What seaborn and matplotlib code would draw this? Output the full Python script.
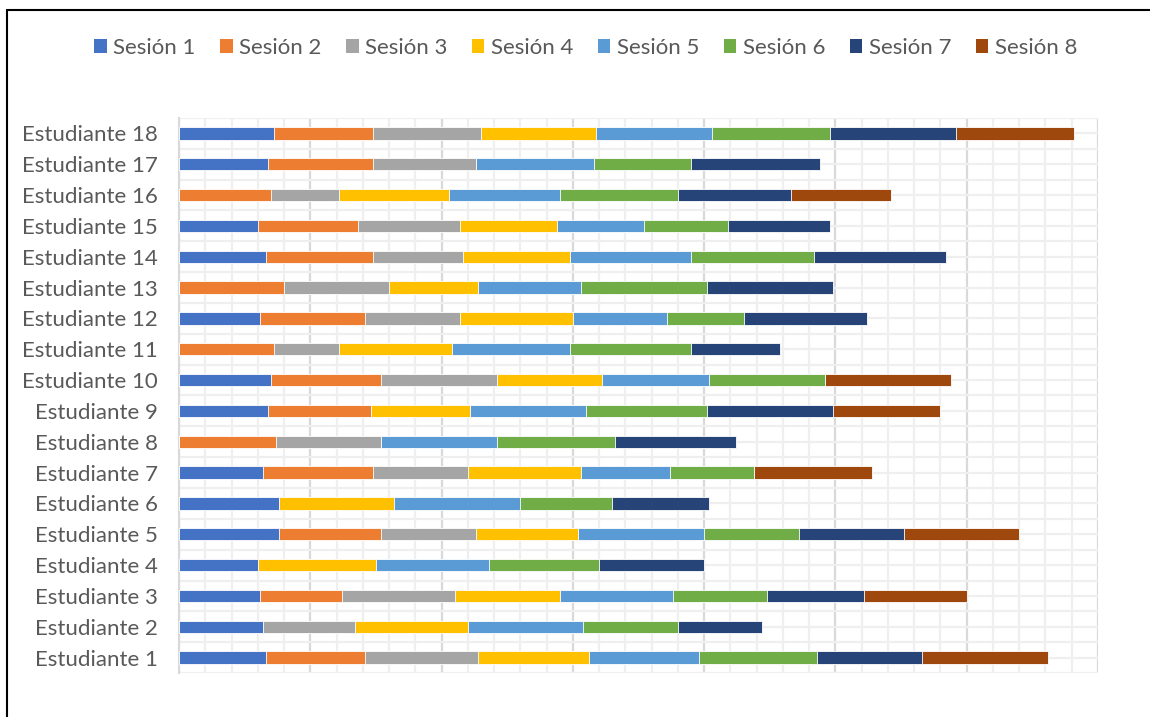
import numpy as np
import pandas as pd
import matplotlib
matplotlib.use("Agg")
import matplotlib.pyplot as plt
import matplotlib.patches as mpatches
from matplotlib.lines import Line2D
from matplotlib.ticker import MultipleLocator, FixedLocator
import seaborn as sns

# ---------------- data ----------------
estudiantes = [f"Estudiante {i}" for i in range(1, 19)]
sesiones = [f"Sesión {i}" for i in range(1, 9)]
nan = np.nan
sesion_1 = [3.3, 3.2, 3.1, 3.0, 3.8, 3.8, 3.2, nan, 3.4, 3.5, nan, 3.1, nan, 3.3, 3.0, nan, 3.4, 3.6]
sesion_2 = [3.8, nan, 3.1, nan, 3.9, nan, 4.2, 3.7, 3.9, 4.2, 3.6, 4.0, 4.0, 4.1, 3.8, 3.5, 4.0, 3.8]
sesion_3 = [4.3, 3.5, 4.3, nan, 3.6, nan, 3.6, 4.0, nan, 4.4, 2.5, 3.6, 4.0, 3.4, 3.9, 2.6, 3.9, 4.1]
sesion_4 = [4.2, 4.3, 4.0, 4.5, 3.9, 4.4, 4.3, nan, 3.8, 4.0, 4.3, 4.3, 3.4, 4.1, 3.7, 4.2, nan, 4.4]
sesion_5 = [4.2, 4.4, 4.3, 4.3, 4.8, 4.8, 3.4, 4.4, 4.4, 4.1, 4.5, 3.6, 3.9, 4.6, 3.3, 4.2, 4.5, 4.4]
sesion_6 = [4.5, 3.6, 3.6, 4.2, 3.6, 3.5, 3.2, 4.5, 4.6, 4.4, 4.6, 2.9, 4.8, 4.7, 3.2, 4.5, 3.7, 4.5]
sesion_7 = [4.0, 3.2, 3.7, 4.0, 4.0, 3.7, nan, 4.6, 4.8, nan, 3.4, 4.7, 4.8, 5.0, 3.9, 4.3, 4.9, 4.8]
sesion_8 = [4.8, nan, 3.9, nan, 4.4, nan, 4.5, nan, 4.1, 4.8, nan, nan, nan, nan, nan, 3.8, nan, 4.5]

colores = ["#4472C4", "#ED7D31", "#A5A5A5", "#FFC000",
           "#5B9BD5", "#70AD47", "#264478", "#9E480E"]

df = pd.DataFrame({"Estudiante": estudiantes})
for name, vals in zip(sesiones, [sesion_1, sesion_2, sesion_3, sesion_4,
                                 sesion_5, sesion_6, sesion_7, sesion_8]):
    df[name] = vals
cum = df[sesiones].fillna(0).cumsum(axis=1)
orden = estudiantes[::-1]

# ---------------- figure ----------------
sns.set_style("white")
FONT = ["Lato", "DejaVu Sans"]
plt.rcParams["font.family"] = FONT
TXT = "#595959"

fig = plt.figure(figsize=(11.5, 7.17), dpi=100)
ax = fig.add_axes([179 / 1150, 1 - 673 / 717, (1098 - 179) / 1150, (673 - 118) / 717])

for i in reversed(range(8)):
    sns.barplot(x=cum[sesiones[i]], y=df["Estudiante"], order=orden,
                color=colores[i], saturation=1, width=0.4, orient="h",
                errorbar=None, ax=ax, edgecolor="white", linewidth=0.6,
                zorder=3)

ax.set_xlim(0, 35)
ax.set_ylim(17.5, -0.5)
ax.set_xlabel("")
ax.set_ylabel("")

ax.xaxis.set_major_locator(MultipleLocator(5))
ax.xaxis.set_minor_locator(MultipleLocator(1))
ax.yaxis.set_major_locator(FixedLocator(np.arange(18)))
ax.yaxis.set_minor_locator(FixedLocator(np.arange(-0.5, 18, 1.0)))
ax.set_yticklabels(orden)

ax.grid(which="major", axis="x", color="#d9d9d9", lw=1.6, zorder=0)
ax.grid(which="minor", axis="x", color="#efefef", lw=1.6, zorder=0)
ax.grid(which="both", axis="y", color="#efefef", lw=1.6, zorder=0)
ax.set_axisbelow(True)

ax.tick_params(axis="x", which="both", length=0, labelbottom=False)
ax.tick_params(axis="y", which="major", length=0, pad=15, labelsize=16, labelcolor=TXT)
ax.tick_params(axis="y", which="minor", length=6, width=1.5, color="#d9d9d9")

for s in ["top", "right", "bottom"]:
    ax.spines[s].set_visible(False)
ax.spines["left"].set_color("#d9d9d9")
ax.spines["left"].set_linewidth(1.5)

handles = [mpatches.Patch(facecolor=c, edgecolor="none") for c in colores]
fig.legend(handles, sesiones, loc="center", bbox_to_anchor=(586 / 1150, 1 - 48 / 717),
           ncol=8, frameon=False, fontsize=16, labelcolor=TXT,
           handlelength=0.55, handleheight=0.55, handletextpad=0.3,
           columnspacing=1.11)

# outer frame (left and top edges visible)
fig.add_artist(Line2D([6.5 / 1150, 6.5 / 1150], [0, 1 - 9.5 / 717],
                      transform=fig.transFigure, color="black", lw=1.5))
fig.add_artist(Line2D([6.5 / 1150, 1], [1 - 9.5 / 717, 1 - 9.5 / 717],
                      transform=fig.transFigure, color="black", lw=1.5))

fig.savefig("out.png", dpi=100)
